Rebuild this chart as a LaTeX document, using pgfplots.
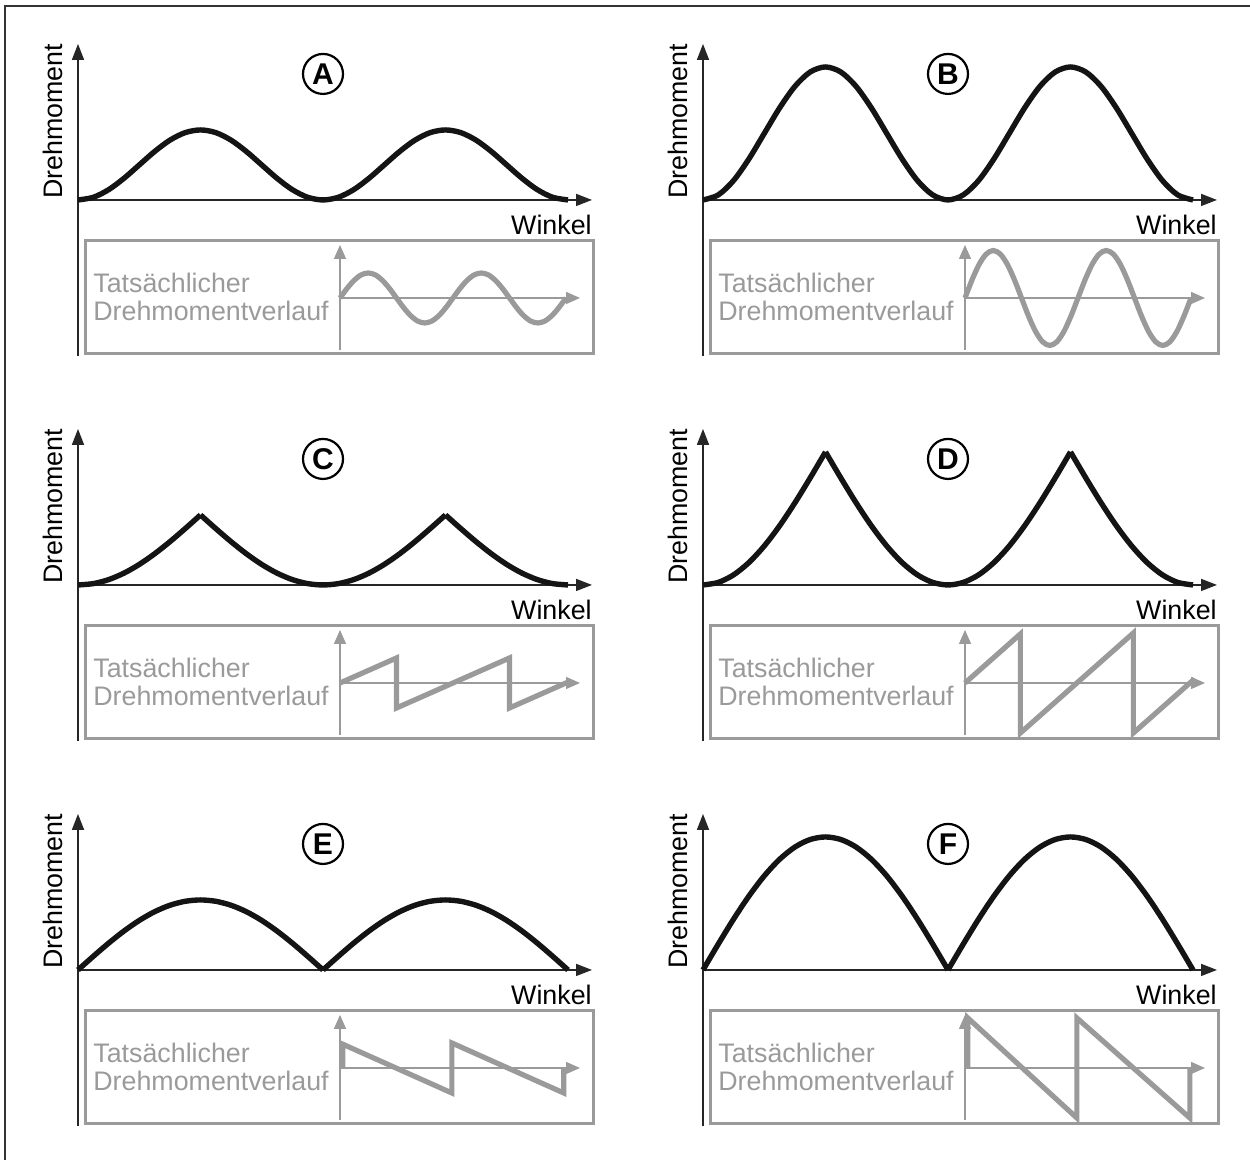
\documentclass[border=0pt]{standalone}
\usepackage{pgfplots}
\pgfplotsset{compat=1.18}
\usepackage{fontspec}
\setmainfont{Liberation Sans}
\usetikzlibrary{arrows.meta}
\definecolor{gc}{HTML}{9A9A9A}
\newcommand\fs{\fontsize{13.4}{14}\selectfont}
\pgfplotsset{
 mainax/.style={x=122.5pt, y=35pt, xmin=0, xmax=2.098, ymin=-2.229, ymax=2.229,
   axis lines=middle, axis line style={black!85, line width=0.8pt, -{Triangle[length=8pt,width=6pt]}},
   xtick=\empty, ytick=\empty, clip=false, anchor=south west},
 insax/.style={x=56.5pt, y=12.5pt, xmin=0, xmax=2.124, ymin=-2.08, ymax=2.12,
   axis lines=middle, axis line style={gc, line width=0.7pt, -{Triangle[length=7pt,width=6pt]}},
   xtick=\empty, ytick=\empty, clip=false, anchor=south west},
 maincurve/.style={black!92, line width=2.7pt, no markers},
 inscurve/.style={gc, line width=2.6pt, no markers},
}
\newcommand\deco[1]{%
 \node[anchor=base east, font=\fs, inner sep=0pt] at (axis cs:2.098,-0.5) {Winkel};
 \node[rotate=90, anchor=base west, font=\fs, inner sep=0pt] at (axis cs:-0.0653,0.01) {Drehmoment};
 \node[circle, draw, line width=1.1pt, minimum size=20pt, inner sep=0pt, font=\bfseries\fontsize{15}{15}\selectfont] at (axis cs:1,1.8) {#1};
 \draw[gc, line width=1.5pt] (axis cs:0.0286,-0.586) rectangle (axis cs:2.106,-2.2);
 \node[anchor=base west, text=gc, font=\fs, inner sep=0pt] at (axis cs:0.0612,-1.329) {Tatsächlicher};
 \node[anchor=base west, text=gc, font=\fs, inner sep=0pt] at (axis cs:0.0612,-1.729) {Drehmomentverlauf};
}
\begin{document}
\begin{tikzpicture}
\path[use as bounding box] (0,0) rectangle (625pt,580pt);
\draw[black!80, line width=1.2pt] (625pt,577pt) -- (2.5pt,577pt) -- (2.5pt,0pt);

% ---------- A ----------
\begin{axis}[mainax, at={(39pt,402pt)}]
\deco{A}
\addplot[maincurve, smooth] coordinates {(0,0)(0.0625,0.03806)(0.125,0.14645)(0.1875,0.30866)(0.25,0.5)(0.3125,0.69134)(0.375,0.85355)(0.4375,0.96194)(0.5,1)(0.5625,0.96194)(0.625,0.85355)(0.6875,0.69134)(0.75,0.5)(0.8125,0.30866)(0.875,0.14645)(0.9375,0.03806)(1,0)(1.0625,0.03806)(1.125,0.14645)(1.1875,0.30866)(1.25,0.5)(1.3125,0.69134)(1.375,0.85355)(1.4375,0.96194)(1.5,1)(1.5625,0.96194)(1.625,0.85355)(1.6875,0.69134)(1.75,0.5)(1.8125,0.30866)(1.875,0.14645)(1.9375,0.03806)(2,0)};
\end{axis}
\begin{axis}[insax, at={(170pt,405pt)}]
\addplot[inscurve, smooth] coordinates {(0,0)(0.0625,0.38268)(0.125,0.70711)(0.1875,0.92388)(0.25,1)(0.3125,0.92388)(0.375,0.70711)(0.4375,0.38268)(0.5,0)(0.5625,-0.38268)(0.625,-0.70711)(0.6875,-0.92388)(0.75,-1)(0.8125,-0.92388)(0.875,-0.70711)(0.9375,-0.38268)(1,0)(1.0625,0.38268)(1.125,0.70711)(1.1875,0.92388)(1.25,1)(1.3125,0.92388)(1.375,0.70711)(1.4375,0.38268)(1.5,0)(1.5625,-0.38268)(1.625,-0.70711)(1.6875,-0.92388)(1.75,-1)(1.8125,-0.92388)(1.875,-0.70711)(1.9375,-0.38268)(2,0)};
\end{axis}

% ---------- B ----------
\begin{axis}[mainax, at={(351.5pt,402pt)}]
\deco{B}
\addplot[maincurve, smooth] coordinates {(0,0)(0.0625,0.0723)(0.125,0.2783)(0.1875,0.5865)(0.25,0.95)(0.3125,1.3135)(0.375,1.6217)(0.4375,1.8277)(0.5,1.9)(0.5625,1.8277)(0.625,1.6217)(0.6875,1.3135)(0.75,0.95)(0.8125,0.5865)(0.875,0.2783)(0.9375,0.0723)(1,0)(1.0625,0.0723)(1.125,0.2783)(1.1875,0.5865)(1.25,0.95)(1.3125,1.3135)(1.375,1.6217)(1.4375,1.8277)(1.5,1.9)(1.5625,1.8277)(1.625,1.6217)(1.6875,1.3135)(1.75,0.95)(1.8125,0.5865)(1.875,0.2783)(1.9375,0.0723)(2,0)};
\end{axis}
\begin{axis}[insax, at={(482.5pt,405pt)}]
\addplot[inscurve, smooth] coordinates {(0,0)(0.0625,0.7271)(0.125,1.3435)(0.1875,1.7554)(0.25,1.9)(0.3125,1.7554)(0.375,1.3435)(0.4375,0.7271)(0.5,0)(0.5625,-0.7271)(0.625,-1.3435)(0.6875,-1.7554)(0.75,-1.9)(0.8125,-1.7554)(0.875,-1.3435)(0.9375,-0.7271)(1,0)(1.0625,0.7271)(1.125,1.3435)(1.1875,1.7554)(1.25,1.9)(1.3125,1.7554)(1.375,1.3435)(1.4375,0.7271)(1.5,0)(1.5625,-0.7271)(1.625,-1.3435)(1.6875,-1.7554)(1.75,-1.9)(1.8125,-1.7554)(1.875,-1.3435)(1.9375,-0.7271)(2,0)};
\end{axis}

% ---------- C ----------
\begin{axis}[mainax, at={(39pt,209.5pt)}]
\deco{C}
\addplot[maincurve, smooth] coordinates {(0,0)(0.0625,0.01921)(0.125,0.07612)(0.1875,0.16853)(0.25,0.29289)(0.3125,0.44443)(0.375,0.61732)(0.4375,0.80491)(0.5,1)};
\addplot[maincurve, smooth] coordinates {(0.5,1)(0.5625,0.80491)(0.625,0.61732)(0.6875,0.44443)(0.75,0.29289)(0.8125,0.16853)(0.875,0.07612)(0.9375,0.01921)(1,0)(1.0625,0.01921)(1.125,0.07612)(1.1875,0.16853)(1.25,0.29289)(1.3125,0.44443)(1.375,0.61732)(1.4375,0.80491)(1.5,1)};
\addplot[maincurve, smooth] coordinates {(1.5,1)(1.5625,0.80491)(1.625,0.61732)(1.6875,0.44443)(1.75,0.29289)(1.8125,0.16853)(1.875,0.07612)(1.9375,0.01921)(2,0)};
\end{axis}
\begin{axis}[insax, at={(170pt,212.5pt)}]
\addplot[inscurve] coordinates {(0,0)(0.5,1)(0.5,-1)(1.5,1)(1.5,-1)(2.03,0.06)};
\end{axis}

% ---------- D ----------
\begin{axis}[mainax, at={(351.5pt,209.5pt)}]
\deco{D}
\addplot[maincurve, smooth] coordinates {(0,0)(0.0625,0.0365)(0.125,0.1446)(0.1875,0.3202)(0.25,0.5565)(0.3125,0.8444)(0.375,1.1729)(0.4375,1.5293)(0.5,1.9)};
\addplot[maincurve, smooth] coordinates {(0.5,1.9)(0.5625,1.5293)(0.625,1.1729)(0.6875,0.8444)(0.75,0.5565)(0.8125,0.3202)(0.875,0.1446)(0.9375,0.0365)(1,0)(1.0625,0.0365)(1.125,0.1446)(1.1875,0.3202)(1.25,0.5565)(1.3125,0.8444)(1.375,1.1729)(1.4375,1.5293)(1.5,1.9)};
\addplot[maincurve, smooth] coordinates {(1.5,1.9)(1.5625,1.5293)(1.625,1.1729)(1.6875,0.8444)(1.75,0.5565)(1.8125,0.3202)(1.875,0.1446)(1.9375,0.0365)(2,0)};
\end{axis}
\begin{axis}[insax, at={(482.5pt,212.5pt)}]
\addplot[inscurve] coordinates {(0,0)(0.49,1.96)(0.49,-2)(1.49,2)(1.49,-2)(2.03,0.16)};
\end{axis}

% ---------- E ----------
\begin{axis}[mainax, at={(39pt,17pt)}]
\deco{E}
\addplot[maincurve, smooth] coordinates {(0,0)(0.0625,0.19509)(0.125,0.38268)(0.1875,0.55557)(0.25,0.70711)(0.3125,0.83147)(0.375,0.92388)(0.4375,0.98079)(0.5,1)(0.5625,0.98079)(0.625,0.92388)(0.6875,0.83147)(0.75,0.70711)(0.8125,0.55557)(0.875,0.38268)(0.9375,0.19509)(1,0)};
\addplot[maincurve, smooth] coordinates {(1,0)(1.0625,0.19509)(1.125,0.38268)(1.1875,0.55557)(1.25,0.70711)(1.3125,0.83147)(1.375,0.92388)(1.4375,0.98079)(1.5,1)(1.5625,0.98079)(1.625,0.92388)(1.6875,0.83147)(1.75,0.70711)(1.8125,0.55557)(1.875,0.38268)(1.9375,0.19509)(2,0)};
\end{axis}
\begin{axis}[insax, at={(170pt,20pt)}]
\addplot[inscurve] coordinates {(0.025,0)(0.025,0.95)(0.99,-1)(0.99,1)(1.98,-1)(1.98,0)};
\end{axis}

% ---------- F ----------
\begin{axis}[mainax, at={(351.5pt,17pt)}]
\deco{F}
\addplot[maincurve, smooth] coordinates {(0,0)(0.0625,0.3707)(0.125,0.7271)(0.1875,1.0556)(0.25,1.3435)(0.3125,1.5798)(0.375,1.7554)(0.4375,1.8635)(0.5,1.9)(0.5625,1.8635)(0.625,1.7554)(0.6875,1.5798)(0.75,1.3435)(0.8125,1.0556)(0.875,0.7271)(0.9375,0.3707)(1,0)};
\addplot[maincurve, smooth] coordinates {(1,0)(1.0625,0.3707)(1.125,0.7271)(1.1875,1.0556)(1.25,1.3435)(1.3125,1.5798)(1.375,1.7554)(1.4375,1.8635)(1.5,1.9)(1.5625,1.8635)(1.625,1.7554)(1.6875,1.5798)(1.75,1.3435)(1.8125,1.0556)(1.875,0.7271)(1.9375,0.3707)(2,0)};
\end{axis}
\begin{axis}[insax, at={(482.5pt,20pt)}]
\addplot[inscurve] coordinates {(0.025,0)(0.025,2)(0.99,-2)(0.99,2)(1.99,-2)(1.99,0)};
\end{axis}
\end{tikzpicture}
\end{document}
